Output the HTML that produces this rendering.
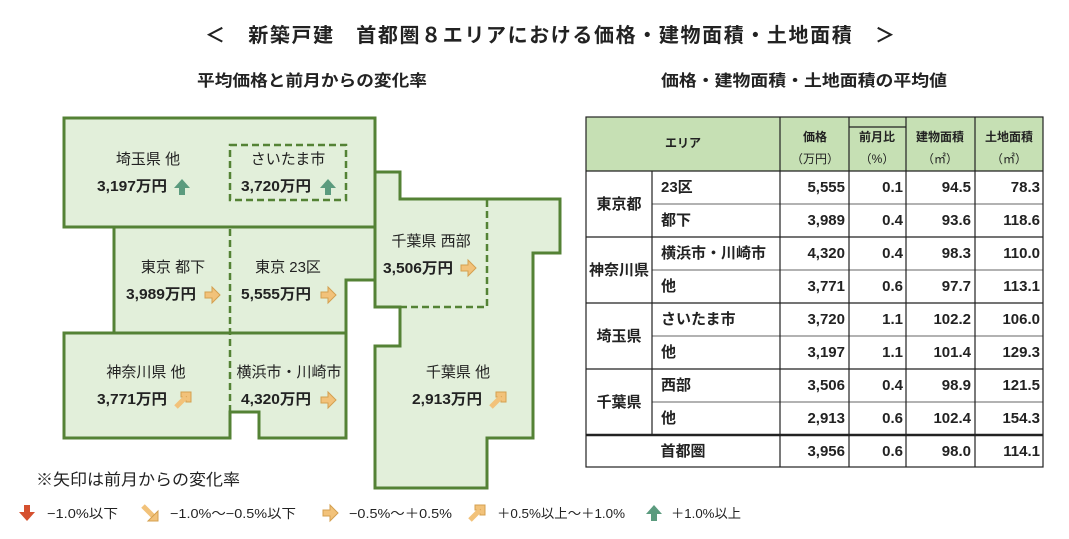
<!DOCTYPE html>
<html><head><meta charset="utf-8"><style>
body{margin:0;background:#fff;width:1069px;height:534px;overflow:hidden}
svg text{font-family:"Liberation Sans","Noto Sans CJK JP",sans-serif;fill:#222}
.b{font-weight:bold}
</style></head><body>
<svg width="1069" height="534" xmlns="http://www.w3.org/2000/svg">
<defs>
<g id="aR"><path d="M-7,-3h7v-5l8,8-8,8v-5h-7z" fill="#f2c27a" stroke="#d4a050" stroke-width="1"/></g>
<g id="aUR"><path d="M-6,6 L3,-3 L-2,-3 L-2,-8 L8,-8 L8,2 L3,2 L3,-3 L-6,6z" fill="#f2c27a" stroke="#d4a050"/><path d="M-7,7 l10,-10" stroke="#f2c27a" stroke-width="5"/></g>
<g id="aU"><path d="M-3,8v-7h-5l8,-9 8,9h-5v7z" fill="#5b9b7e"/></g>
<g id="aDR"><path d="M-7,-7 l10,10" stroke="#f2c27a" stroke-width="5"/><path d="M-2,8 h10 v-10 z" fill="#f2c27a" stroke="#d4a050"/></g>
<g id="aD"><path d="M-3,-8v7h-5l8,9 8,-9h-5v-7z" fill="#d5502f"/></g>
</defs>
<text x="205" y="42" font-size="20" class="b" textLength="690" lengthAdjust="spacing">＜　新築戸建　首都圏８エリアにおける価格・建物面積・土地面積　＞</text>
<text x="197" y="86" font-size="16" class="b" textLength="230" lengthAdjust="spacingAndGlyphs">平均価格と前月からの変化率</text>
<text x="661" y="86" font-size="16" class="b" textLength="286" lengthAdjust="spacingAndGlyphs">価格・建物面積・土地面積の平均値</text>
<g fill="#e2efda" stroke="#548235" stroke-width="3">
<rect x="64" y="118" width="311" height="109"/>
<path d="M114,227H375V280H346V333H114Z"/>
<path d="M64,333H346V438H259V412H230V438H64Z"/>
<path d="M375,172H400V199H560V253H533V438H487V488H375V346H400V307H375Z"/>
</g>
<g fill="none" stroke="#548235" stroke-width="2.5" stroke-dasharray="7,4">
<rect x="230" y="145" width="116" height="55"/>
<path d="M230,229V436"/>
<path d="M487,200V307H377"/>
</g>
<g font-size="15" text-anchor="middle">
<text x="148" y="164">埼玉県 他</text><text x="288" y="164">さいたま市</text>
<text x="173" y="272">東京 都下</text><text x="288" y="272">東京 23区</text>
<text x="431" y="246">千葉県 西部</text>
<text x="146" y="377">神奈川県 他</text><text x="289" y="377">横浜市・川崎市</text>
<text x="458" y="377">千葉県 他</text>
</g>
<g font-size="15" class="b">
<text x="97" y="191" textLength="70" lengthAdjust="spacingAndGlyphs">3,197万円</text><text x="241" y="191" textLength="70" lengthAdjust="spacingAndGlyphs">3,720万円</text>
<text x="126" y="299" textLength="70" lengthAdjust="spacingAndGlyphs">3,989万円</text><text x="241" y="299" textLength="70" lengthAdjust="spacingAndGlyphs">5,555万円</text>
<text x="383" y="273" textLength="70" lengthAdjust="spacingAndGlyphs">3,506万円</text>
<text x="97" y="404" textLength="70" lengthAdjust="spacingAndGlyphs">3,771万円</text><text x="241" y="404" textLength="70" lengthAdjust="spacingAndGlyphs">4,320万円</text>
<text x="412" y="404" textLength="70" lengthAdjust="spacingAndGlyphs">2,913万円</text>
</g>
<use href="#aU" x="182" y="187"/><use href="#aU" x="328" y="187"/>
<use href="#aR" x="212" y="295"/><use href="#aR" x="328" y="295"/><use href="#aR" x="468" y="268"/>
<use href="#aUR" x="183" y="400"/><use href="#aR" x="328" y="400"/><use href="#aUR" x="498" y="400"/>
<text x="36" y="485" font-size="16" textLength="204" lengthAdjust="spacingAndGlyphs">※矢印は前月からの変化率</text>
<g font-size="13">
<use href="#aD" x="27" y="513"/><text x="47" y="518" textLength="71" lengthAdjust="spacingAndGlyphs">−1.0%以下</text>
<use href="#aDR" x="150" y="513"/><text x="170" y="518" textLength="126" lengthAdjust="spacingAndGlyphs">−1.0%〜−0.5%以下</text>
<use href="#aR" x="330" y="513"/><text x="349" y="518" textLength="103" lengthAdjust="spacingAndGlyphs">−0.5%〜＋0.5%</text>
<use href="#aUR" x="477" y="513"/><text x="497" y="518" textLength="128" lengthAdjust="spacingAndGlyphs">＋0.5%以上〜＋1.0%</text>
<use href="#aU" x="654" y="513"/><text x="671" y="518" textLength="70" lengthAdjust="spacingAndGlyphs">＋1.0%以上</text>
</g>
<rect x="586" y="117" width="457" height="54" fill="#c6e0b4"/>
<g stroke="#999" stroke-width="1.5">
<path d="M652,204H1043M652,270H1043M652,336H1043M652,402H1043"/>
</g>
<g stroke="#222" stroke-width="1.2" fill="none">
<rect x="586" y="117" width="457" height="350"/>
<path d="M586,171H1043M586,237H1043M586,303H1043M586,369H1043"/>
<path d="M652,171V435M780,117V467M849,117V467M906,117V467M975,117V467M849,127H906"/>
</g>
<path d="M586,435H1043" stroke="#222" stroke-width="2.5"/>
<g font-size="12" class="b" text-anchor="middle">
<text x="683" y="147">エリア</text>
<text x="815" y="141">価格</text><text x="815" y="163" font-weight="normal">（万円）</text>
<text x="877" y="141">前月比</text><text x="877" y="163" font-weight="normal">（%）</text>
<text x="940" y="141">建物面積</text><text x="940" y="163" font-weight="normal">（㎡）</text>
<text x="1009" y="141">土地面積</text><text x="1009" y="163" font-weight="normal">（㎡）</text>
</g>
<g font-size="15" class="b">
<g text-anchor="middle"><text x="619" y="209">東京都</text><text x="619" y="275">神奈川県</text><text x="619" y="341">埼玉県</text><text x="619" y="407">千葉県</text><text x="683" y="456">首都圏</text></g>
<text x="661" y="192">23区</text><text x="661" y="225">都下</text><text x="661" y="258">横浜市・川崎市</text><text x="661" y="291">他</text>
<text x="661" y="324">さいたま市</text><text x="661" y="357">他</text><text x="661" y="390">西部</text><text x="661" y="423">他</text>
<g text-anchor="end">
<text x="845" y="192">5,555</text><text x="845" y="225">3,989</text><text x="845" y="258">4,320</text><text x="845" y="291">3,771</text><text x="845" y="324">3,720</text><text x="845" y="357">3,197</text><text x="845" y="390">3,506</text><text x="845" y="423">2,913</text><text x="845" y="456">3,956</text>
<text x="903" y="192">0.1</text><text x="903" y="225">0.4</text><text x="903" y="258">0.4</text><text x="903" y="291">0.6</text><text x="903" y="324">1.1</text><text x="903" y="357">1.1</text><text x="903" y="390">0.4</text><text x="903" y="423">0.6</text><text x="903" y="456">0.6</text>
<text x="971" y="192">94.5</text><text x="971" y="225">93.6</text><text x="971" y="258">98.3</text><text x="971" y="291">97.7</text><text x="971" y="324">102.2</text><text x="971" y="357">101.4</text><text x="971" y="390">98.9</text><text x="971" y="423">102.4</text><text x="971" y="456">98.0</text>
<text x="1040" y="192">78.3</text><text x="1040" y="225">118.6</text><text x="1040" y="258">110.0</text><text x="1040" y="291">113.1</text><text x="1040" y="324">106.0</text><text x="1040" y="357">129.3</text><text x="1040" y="390">121.5</text><text x="1040" y="423">154.3</text><text x="1040" y="456">114.1</text>
</g>
</g>
</svg>
</body></html>
